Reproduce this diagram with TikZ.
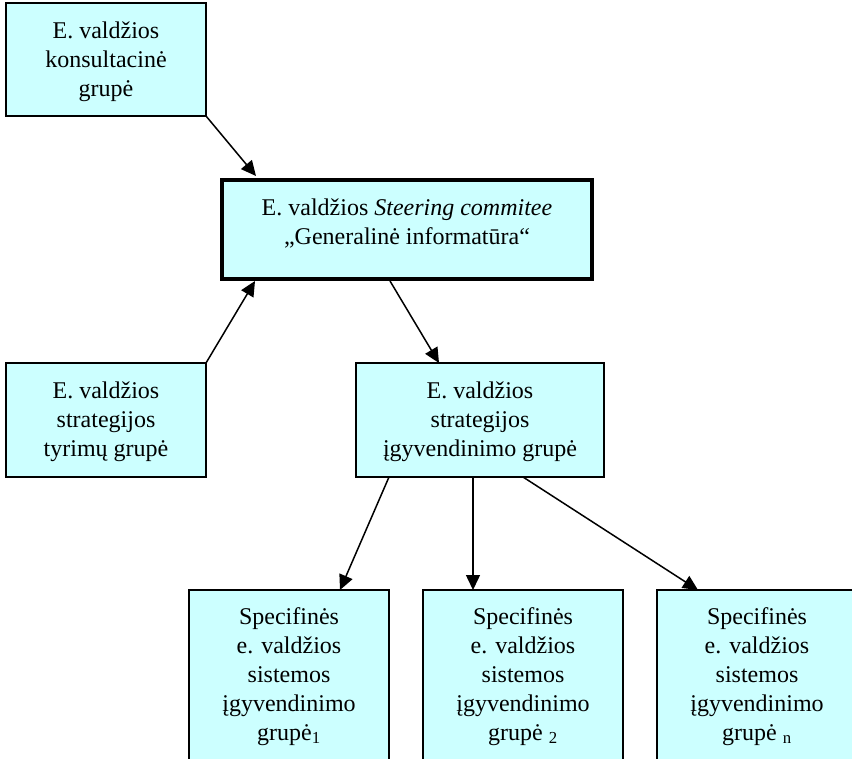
\documentclass[tikz,border=0pt]{standalone}
\usepackage{fontspec}
\setmainfont{Liberation Serif}
\usetikzlibrary{arrows.meta,calc}

\definecolor{boxfill}{HTML}{CCFFFF}

\tikzset{
  box/.style={draw=black, fill=boxfill, line width=1.5pt, rectangle,
    inner sep=0pt, outer sep=0pt, anchor=north west},
  mainbox/.style={box, line width=3.5pt},
  txt/.style={align=center, inner sep=0pt, anchor=north,
    font=\fontsize{24}{29}\selectfont},
  link/.style={line width=1.5pt, -{Triangle[length=15pt,width=14pt]}}
}

\begin{document}
\begin{tikzpicture}[x=1pt, y=-1pt]
\useasboundingbox (0,0) rectangle (852,759);
\clip (0,0) rectangle (852,759);

% boxes
\node[box, minimum width=200pt, minimum height=113pt] (kons) at (6,3) {};
\node[mainbox, minimum width=370pt, minimum height=99pt] (steer) at (222,180) {};
\node[box, minimum width=200pt, minimum height=114pt] (tyr) at (6,363) {};
\node[box, minimum width=248pt, minimum height=114pt] (igyv) at (356,363) {};
\node[box, minimum width=200pt, minimum height=190pt] (sp1) at (189,590) {};
\node[box, minimum width=200pt, minimum height=190pt] (sp2) at (423,590) {};
\node[box, minimum width=200pt, minimum height=190pt] (sp3) at (657,590) {};

% labels
\node[txt] (kons-t) at ([yshift=-19pt]kons.north)
  {E. valdžios\\konsultacinė\\grupė};
\node[txt] (steer-t) at ([yshift=-19pt]steer.north)
  {E. valdžios \textit{Steering commitee}\\„Generalinė informatūra“};
\node[txt] (tyr-t) at ([yshift=-19pt]tyr.north)
  {E. valdžios\\strategijos\\tyrimų grupė};
\node[txt] (igyv-t) at ([yshift=-19pt]igyv.north)
  {E. valdžios\\strategijos\\įgyvendinimo grupė};
\node[txt] (sp1-t) at ([yshift=-17pt]sp1.north)
  {Specifinės\\e. valdžios\\sistemos\\įgyvendinimo\\grupė\textsubscript{1}};
\node[txt] (sp2-t) at ([yshift=-17pt]sp2.north)
  {Specifinės\\e. valdžios\\sistemos\\įgyvendinimo\\grupė \textsubscript{2}};
\node[txt] (sp3-t) at ([yshift=-17pt]sp3.north)
  {Specifinės\\e. valdžios\\sistemos\\įgyvendinimo\\grupė \textsubscript{n}};

% connectors
\draw[link] (kons.south east) -- ($(steer.north west)+(34,-4)$);
\draw[link] (tyr.north east) -- ($(steer.south west)+(33,2)$);
\draw[link] ($(steer.south west)+(168,2)$) -- ($(igyv.north west)+(83,0)$);
\draw[link] ($(igyv.south west)+(33,0)$) -- ($(sp1.north west)+(151,0)$);
\draw[link] ($(igyv.south west)+(117,0)$) -- ($(sp2.north west)+(50,0)$);
\draw[link] ($(igyv.south west)+(167,0)$) -- ($(sp3.north west)+(41,0)$);
\end{tikzpicture}
\end{document}
